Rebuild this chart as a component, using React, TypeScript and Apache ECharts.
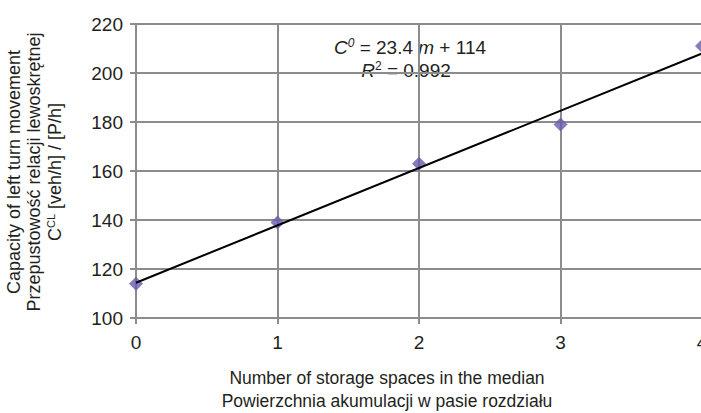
import React, { useEffect, useRef } from "react";
import * as echarts from "echarts";

const xValues = [0, 1, 2, 3, 4];
const capacityValues = [114, 139, 163, 179, 211];
const xTicks = { min: 0, max: 4, interval: 1 };
const yTicks = { min: 100, max: 220, interval: 20 };
const yTitleLines = [
  "Capacity of left turn movement",
  "Przepustowość relacji lewoskrętnej",
];
const xTitleLines = [
  "Number of storage spaces in the median",
  "Powierzchnia akumulacji w pasie rozdziału",
];
const equationText = "{i|C}{supi|0}{n| = 23.4 }{i|m}{n| + 114}";
const r2Text = "{i|R}{sup|2}{n| = 0.992}";

function linearFit(xs: number[], ys: number[]) {
  const n = xs.length;
  const mx = xs.reduce((a, b) => a + b, 0) / n;
  const my = ys.reduce((a, b) => a + b, 0) / n;
  let sxy = 0;
  let sxx = 0;
  for (let i = 0; i < n; i++) {
    sxy += (xs[i] - mx) * (ys[i] - my);
    sxx += (xs[i] - mx) * (xs[i] - mx);
  }
  const slope = sxy / sxx;
  return { slope, intercept: my - slope * mx };
}

const FONT = "'Liberation Sans', Arial, sans-serif";
const TXT = "#231f20";
const GRID = "#8c8c8c";

export default function App() {
  const ref = useRef<HTMLDivElement>(null);
  useEffect(() => {
    if (!ref.current) return;
    const chart = echarts.init(ref.current, undefined, { renderer: "svg" });
    const fit = linearFit(xValues, capacityValues);
    const trend = [
      [xTicks.min, fit.intercept + fit.slope * xTicks.min],
      [xTicks.max, fit.intercept + fit.slope * xTicks.max],
    ];
    const fs = 19;
    const tfs = 17.5;
    const efs = 19;
    const eqRich = {
      n: { fontSize: efs, fontFamily: FONT, color: TXT, lineHeight: 20, verticalAlign: "bottom" },
      i: { fontSize: efs, fontFamily: FONT, fontStyle: "italic", color: TXT, lineHeight: 20, verticalAlign: "bottom" },
      supi: { fontSize: 12, fontFamily: FONT, fontStyle: "italic", color: TXT, lineHeight: 20, verticalAlign: "top" },
      sup: { fontSize: 12, fontFamily: FONT, color: TXT, lineHeight: 20, verticalAlign: "top" },
    };
    chart.setOption({
      animation: false,
      textStyle: { fontFamily: FONT, color: TXT },
      grid: { left: 136, top: 24, width: 566, height: 294, outerBoundsMode: "none", containLabel: false },
      xAxis: {
        type: "value",
        min: xTicks.min,
        max: xTicks.max,
        interval: xTicks.interval,
        axisLine: { show: true, lineStyle: { color: GRID, width: 2 } },
        axisTick: { show: true, inside: false, length: 6, lineStyle: { color: GRID, width: 2 } },
        axisLabel: { color: TXT, fontSize: fs, fontFamily: FONT, margin: 15, showMaxLabel: true, hideOverlap: false },
        splitLine: { show: true, lineStyle: { color: GRID, width: 2 } },
      },
      yAxis: {
        type: "value",
        min: yTicks.min,
        max: yTicks.max,
        interval: yTicks.interval,
        axisLine: { show: true, lineStyle: { color: GRID, width: 2 } },
        axisTick: { show: true, inside: false, length: 6, lineStyle: { color: GRID, width: 2 } },
        axisLabel: { color: TXT, fontSize: fs, fontFamily: FONT, margin: 13 },
        splitLine: { show: true, lineStyle: { color: GRID, width: 2 } },
      },
      series: [
        {
          type: "line",
          data: trend,
          symbol: "none",
          lineStyle: { color: "#000", width: 2 },
          z: 3,
          silent: true,
        },
        {
          type: "scatter",
          data: xValues.map((x, i) => [x, capacityValues[i]]),
          symbol: "diamond",
          symbolSize: [14, 14],
          itemStyle: { color: "#6a5aad" },
          clip: false,
          z: 2,
        },
      ],
      graphic: [
        ...yTitleLines.map((t, i) => ({
          type: "text",
          x: 14 + i * 20,
          y: 172,
          rotation: Math.PI / 2,
          style: {
            text: t,
            fontSize: 18,
            fontFamily: FONT,
            fill: TXT,
            align: "center",
            verticalAlign: "middle",
          },
        })),
        {
          type: "text",
          x: 54,
          y: 172,
          rotation: Math.PI / 2,
          style: {
            text: "{m|C}{sup|CL}{m| [veh/h] / [P/h]}",
            fontSize: 18,
            fontFamily: FONT,
            fill: TXT,
            align: "center",
            verticalAlign: "middle",
            rich: {
              m: { fontSize: 18, fontFamily: FONT, color: TXT, lineHeight: 20, verticalAlign: "bottom" },
              sup: { fontSize: 11, fontFamily: FONT, color: TXT, lineHeight: 20, verticalAlign: "top", padding: [1, 0, 0, 0] },
            },
          },
        },
        ...xTitleLines.map((t, i) => ({
          type: "text",
          x: 387,
          y: 378 + i * 23,
          style: {
            text: t,
            fontSize: tfs,
            fontFamily: FONT,
            fill: TXT,
            align: "center",
            verticalAlign: "middle",
          },
        })),
        {
          type: "text",
          x: 410,
          y: 47,
          style: {
            text: equationText,
            fontSize: efs,
            fontFamily: FONT,
            fill: TXT,
            align: "center",
            verticalAlign: "middle",
            rich: eqRich,
          },
        },
        {
          type: "text",
          x: 406,
          y: 70,
          style: {
            text: r2Text,
            fontSize: efs,
            fontFamily: FONT,
            fill: TXT,
            align: "center",
            verticalAlign: "middle",
            rich: eqRich,
          },
        },
      ],
    });
    return () => chart.dispose();
  }, []);
  return (
    <div
      ref={ref}
      style={{ position: "fixed", left: 0, top: 0, width: 701, height: 413, background: "#fff" }}
    />
  );
}
